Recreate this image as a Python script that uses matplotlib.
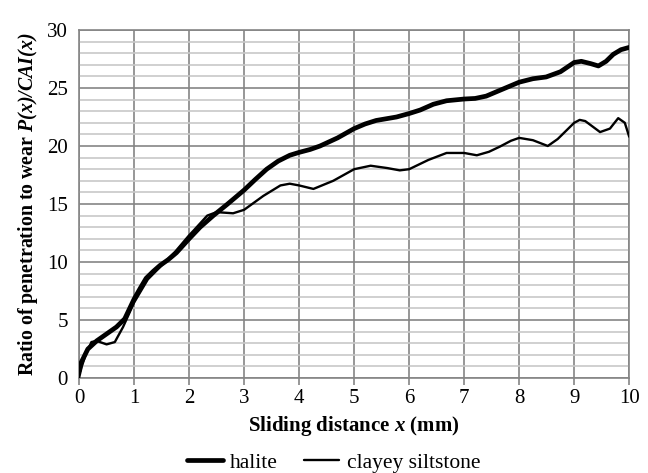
import matplotlib
matplotlib.use("Agg")
import matplotlib.pyplot as plt
from matplotlib.ticker import MultipleLocator

plt.rcParams['font.family'] = ['Liberation Serif', 'DejaVu Serif']
plt.rcParams['mathtext.fontset'] = 'custom'
plt.rcParams['mathtext.rm'] = 'Liberation Serif'
plt.rcParams['mathtext.it'] = 'Liberation Serif:italic'
plt.rcParams['mathtext.bf'] = 'Liberation Serif:bold'
plt.rcParams['mathtext.bfit'] = 'Liberation Serif:italic:bold'

# values
halite_x = [0, 0.04, 0.16, 0.32, 0.5, 0.68, 0.83, 1.0, 1.12, 1.22, 1.35, 1.47,
            1.62, 1.77, 2.0, 2.2, 2.44, 2.7, 3.0, 3.2, 3.41, 3.62, 3.83, 4.0,
            4.2, 4.38, 4.7, 5.0, 5.2, 5.4, 5.77, 6.0, 6.2, 6.44, 6.68, 7.0,
            7.2, 7.4, 7.65, 8.0, 8.25, 8.49, 8.75, 9.0, 9.13, 9.3, 9.44, 9.58,
            9.71, 9.85, 10.0]
halite_y = [0.6, 1.35, 2.5, 3.2, 3.8, 4.4, 5.1, 6.8, 7.8, 8.6, 9.2, 9.7,
            10.2, 10.8, 12.0, 13.0, 14.0, 15.0, 16.2, 17.1, 18.0, 18.7, 19.2, 19.45,
            19.7, 20.0, 20.7, 21.5, 21.9, 22.2, 22.5, 22.8, 23.1, 23.6, 23.9, 24.05,
            24.1, 24.3, 24.8, 25.5, 25.8, 25.95, 26.4, 27.2, 27.3, 27.1, 26.9, 27.3,
            27.9, 28.3, 28.5]

clay_x = [0, 0.05, 0.12, 0.225, 0.32, 0.5, 0.65, 0.8, 1.0, 1.25, 1.5, 1.75,
          2.0, 2.08, 2.33, 2.5, 2.8, 3.0, 3.35, 3.66, 3.83, 4.0, 4.26, 4.62,
          5.0, 5.3, 5.6, 5.83, 6.0, 6.35, 6.68, 7.0, 7.23, 7.45, 7.65, 7.85,
          8.0, 8.25, 8.52, 8.7, 8.85, 9.0, 9.1, 9.2, 9.3, 9.47, 9.65, 9.8,
          9.92, 10.0]
clay_y = [0, 1.0, 2.0, 3.1, 3.2, 2.9, 3.1, 4.4, 6.5, 8.5, 9.7, 10.9,
          12.3, 12.7, 14.0, 14.3, 14.2, 14.5, 15.7, 16.6, 16.75, 16.6, 16.3, 17.0,
          18.0, 18.3, 18.1, 17.9, 18.0, 18.8, 19.4, 19.4, 19.2, 19.5, 19.95, 20.45,
          20.7, 20.5, 20.0, 20.6, 21.3, 22.0, 22.25, 22.15, 21.8, 21.2, 21.5, 22.4,
          22.0, 20.8]

fig = plt.figure(figsize=(6.48, 4.73), dpi=100)
ax = fig.add_axes([0.122, 0.2008, 0.849, 0.7358])

ax.plot(halite_x, halite_y, color='black', lw=3.4, solid_joinstyle='round',
        solid_capstyle='round', label='halite', zorder=3)
ax.plot(clay_x, clay_y, color='black', lw=1.7, solid_joinstyle='round',
        solid_capstyle='round', label='clayey siltstone', zorder=3)

ax.set_xlim(0, 10)
ax.set_ylim(0, 30)
ax.xaxis.set_major_locator(MultipleLocator(1))
ax.yaxis.set_major_locator(MultipleLocator(5))
ax.yaxis.set_minor_locator(MultipleLocator(1))
ax.grid(which='major', color='#858585', lw=1.2)
ax.grid(which='minor', axis='y', color='#c8c8c8', lw=1.2)
ax.set_axisbelow(True)
for s in ax.spines.values():
    s.set_color('#858585')
    s.set_linewidth(1.2)
ax.tick_params(axis='x', which='major', length=5, color='#858585', width=1.2,
               labelsize=15, pad=3)
ax.tick_params(axis='y', which='both', length=0, labelsize=15, pad=8)

ax.set_xlabel(r'Sliding distance $\mathbfit{x}$ (mm)', fontsize=15,
              fontweight='bold', labelpad=4)
ax.set_ylabel(r'Ratio of penetration to wear $\mathbfit{P(x)/CAI(x)}$',
              fontsize=14.3, fontweight='bold', labelpad=5)

fig.legend(loc='center', bbox_to_anchor=(0.515, 0.022), ncol=2,
           frameon=False, fontsize=15.5, handlelength=1.65, columnspacing=1.2,
           handletextpad=0.35)

fig.savefig('out.png', dpi=100)
